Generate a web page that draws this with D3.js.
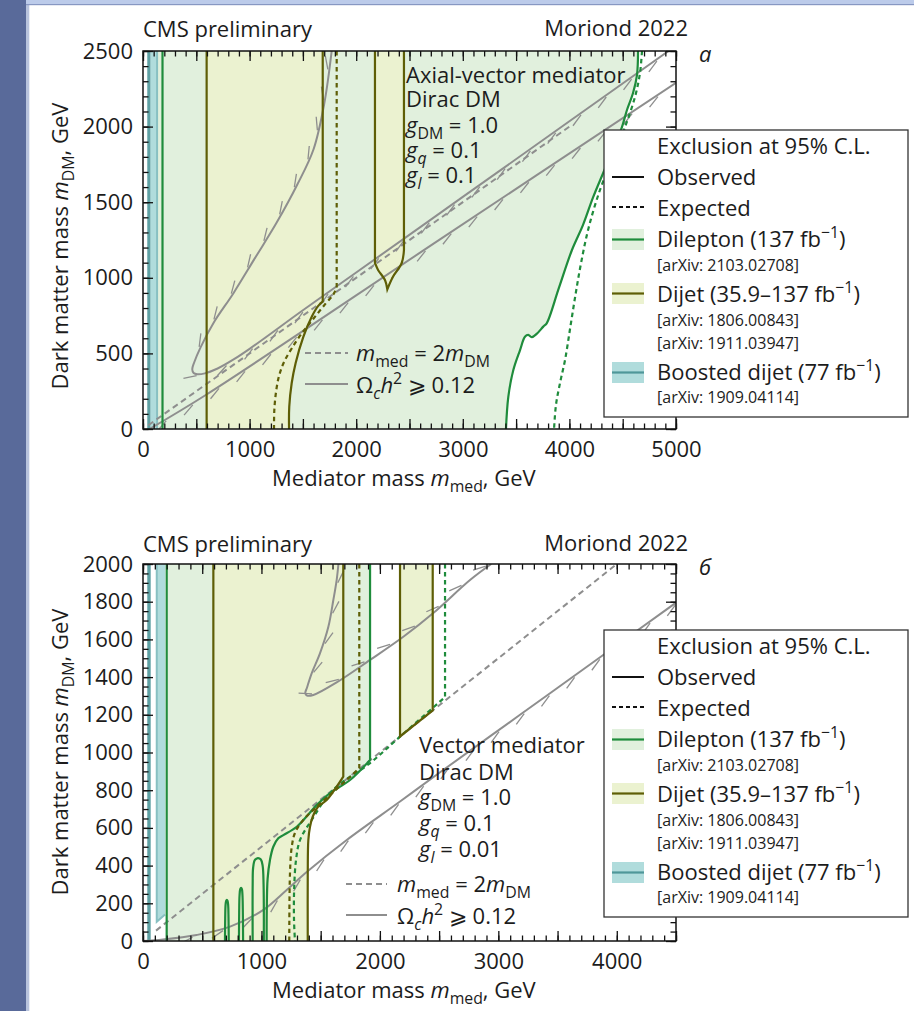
<!DOCTYPE html>
<html>
<head>
<meta charset="utf-8">
<script src="https://cdn.jsdelivr.net/npm/d3@7"></script>
<style>
  html, body { margin: 0; padding: 0; background: #fff; }
  svg { display: block; font-family: "Open Sans", "Noto Sans", sans-serif; }
</style>
</head>
<body>
<svg id="fig" width="914" height="1011"></svg>
<script>
// Contours are lists of [mediator mass, DM mass] in GeV.
// A point listed twice in a row marks a sharp corner of the contour.

// ---------------- Panel а: axial-vector mediator ----------------
const avXDomain = [0, 5000];
const avYDomain = [0, 2500];
const avXLabels = [0, 1000, 2000, 3000, 4000, 5000];
const avYLabels = [0, 500, 1000, 1500, 2000, 2500];
const avBoostedStrip = [40, 72];
const avBoostedFill = [72, 141];
const avBoostedEdge = 132;
const avDileptonLeft = 183;
const avDileptonObs = [[4644,2500],[4634,2341],[4597,2222],[4540,2110],[4493,1997],[4410,1850],[4315,1690],[4221,1530],[4128,1350],[4024,1184],[3900,930],[3787,699],[3755,677],[3693,629],[3646,607],[3614,622],[3583,610],[3537,522],[3474,390],[3427,213],[3405,0]];
const avDileptonExp = [[4681,2500],[4662,2354],[4615,2196],[4512,1978],[4400,1779],[4287,1581],[4180,1330],[4110,1100],[4060,900],[4010,680],[3960,460],[3912,304],[3874,159],[3856,0]];
const avDijetLeft = 597;
const avDijetObs = [[1686,2500],[1686,842],[1686,842],[1642,813],[1583,743],[1504,610],[1432,437],[1395,304],[1372,147],[1370,0]];
const avDijetExp = [[1817,2500],[1817,933],[1817,933],[1782,886],[1717,833],[1604,734],[1492,635],[1398,536],[1323,443],[1276,351],[1248,245],[1232,126],[1229,0]];
const avDijetIsland = [[2176,2500],[2176,1098],[2176,1098],[2205,1052],[2270,985],[2292,924],[2292,924],[2345,1007],[2427,1098],[2448,1184],[2448,1184],[2448,2500]];
const avRelicLoop = [[1770,2500],[1700,2150],[1600,1850],[1450,1620],[1250,1360],[1050,1130],[850,900],[660,700],[540,540],[480,440],[462,395],[475,370],[510,362],[580,368],[700,400],[850,460],[1000,530],[1500,785],[2000,1035],[3000,1535],[4000,2035],[4930,2500]];
const avRelicLine = [[60,0],[600,230],[2786,1254],[5000,2290]];
const avDiagonal = [[50,25],[4000,2000]];
const avModel = ["Axial-vector mediator", "Dirac DM"];
const avCouplings = [["DM", "1.0"], ["q", "0.1"], ["l", "0.1"]];

// ---------------- Panel б: vector mediator ----------------
const vcXDomain = [0, 4500];
const vcYDomain = [0, 2000];
const vcXLabels = [0, 1000, 2000, 3000, 4000];
const vcYLabels = [0, 200, 400, 600, 800, 1000, 1200, 1400, 1600, 1800, 2000];
const vcBoostedStrip = [36, 65];
const vcBoostedRegion = [[116,2000],[116,102],[186,140],[186,2000]];
const vcDileptonLeft = 200;
const vcDileptonObs = [[1917,2000],[1917,960],[1917,960],[1748,854],[1579,784],[1467,721],[1298,606],[1185,562],[1142,545],[1100,500],[1072,430],[1052,330],[1045,160],[1044,0]];
const vcDileptonArches = [
  [[692,0],[694,120],[697,190],[702,213],[708,218],[714,213],[719,190],[722,120],[724,0]],
  [[810,0],[812,150],[815,240],[821,275],[828,282],[835,275],[840,240],[843,150],[845,0]],
  [[926,0],[926,300],[930,390],[945,430],[970,440],[995,432],[1010,400],[1018,300],[1020,0]]
];
const vcDileptonExp = [[2550,2000],[2550,1294],[2550,1294],[2170,1084],[1917,944],[1604,801],[1424,642],[1326,536],[1292,430],[1276,271],[1275,111],[1283,0]];
const vcDijetLeft = 594;
const vcDijetObs = [[1691,2000],[1691,872],[1691,872],[1635,819],[1551,748],[1478,712],[1433,659],[1410,606],[1396,536],[1391,361],[1391,0]];
const vcDijetExp = [[1826,2000],[1826,916],[1826,916],[1691,838],[1579,775],[1467,712],[1353,642],[1283,573],[1256,500],[1241,361],[1235,0]];
const vcDijetIsland = [[2170,2000],[2170,1085],[2170,1085],[2446,1223],[2446,1223],[2446,2000]];
const vcRelicLoop = [[1650,2000],[1635,1915],[1607,1809],[1565,1667],[1494,1526],[1424,1420],[1385,1345],[1370,1315],[1385,1302],[1438,1305],[1635,1372],[1917,1491],[2198,1614],[2451,1740],[2761,1915],[2940,2000]];
const vcRelicCurve = [[0,0],[169,8],[453,32],[735,76],[1013,164],[1213,271],[1382,366],[1720,536],[2170,740],[2508,895],[3183,1200],[3859,1505],[4500,1795]];
const vcDiagonal = [[110,55],[4000,2000]];
const vcModel = ["Vector mediator", "Dirac DM"];
const vcCouplings = [["DM", "1.0"], ["q", "0.1"], ["l", "0.01"]];

// ---------------- Shared text ----------------
const experimentLabel = "CMS preliminary";
const conferenceLabel = "Moriond 2022";
const panelLetters = ["а", "б"];
const legendTitle = "Exclusion at 95% C.L.";
const legendStyles = ["Observed", "Expected"];
const legendAnalyses = [
  { name: "Dilepton (137 fb", refs: ["[arXiv: 2103.02708]"] },
  { name: "Dijet (35.9–137 fb", refs: ["[arXiv: 1806.00843]", "[arXiv: 1911.03947]"] },
  { name: "Boosted dijet (77 fb", refs: ["[arXiv: 1909.04114]"] }
];

// ---------------- Colours ----------------
const C = {
  lepFill: "#e1f0dd", lepLine: "#1f8c3c",
  jetFill: "#ebf2d0", jetLine: "#5e5e06",
  boostFill: "#b0dcdc", boostDark: "#5fa0a3", boostLine: "#88c0c2",
  relic: "#8e8e8e", text: "#1c1c1c"
};
const FONT = 22;

const svg = d3.select("#fig");

// page frame strips
svg.append("rect").attr("x", 0).attr("y", 0).attr("width", 26).attr("height", 1011).attr("fill", "#596a9a");
svg.append("rect").attr("x", 26).attr("y", 0).attr("width", 3.3).attr("height", 1011).attr("fill", "#b8c3dd");
svg.append("rect").attr("x", 26).attr("y", 0).attr("width", 888).attr("height", 4).attr("fill", "#bccbea");
svg.append("rect").attr("x", 26).attr("y", 4).attr("width", 888).attr("height", 1.2).attr("fill", "#8797c2");

// rich text: segments [text, flags]; flags: i = italic, b = subscript, p = superscript
function rich(parent, x, y, segs, size, anchor) {
  const t = parent.append("text").attr("x", x).attr("y", y)
    .attr("font-size", size).attr("fill", C.text)
    .attr("text-anchor", anchor || "start");
  let shift = 0;
  segs.forEach(([s, f = ""]) => {
    const sp = t.append("tspan").text(s);
    const target = f.includes("b") ? 0.26 * size : f.includes("p") ? -0.42 * size : 0;
    if (target !== shift) sp.attr("dy", target - shift);
    shift = target;
    if (f.includes("b") || f.includes("p")) sp.attr("font-size", size * 0.72);
    if (f.includes("i")) sp.attr("font-style", "italic");
  });
  return t;
}

const smooth = d3.line().curve(d3.curveCatmullRom.alpha(0.5));
const straight = d3.line();

// smooth path through pixel points, broken into separate smooth pieces at repeated points
function contourPath(pts) {
  const pieces = [[pts[0]]];
  for (let i = 1; i < pts.length; i++) {
    const p = pts[i], q = pts[i - 1];
    if (p[0] === q[0] && p[1] === q[1]) pieces.push([p]);
    else pieces[pieces.length - 1].push(p);
  }
  return pieces.filter(pc => pc.length > 1)
    .map((pc, i) => { const s = smooth(pc); return i ? s.replace(/^M/, "L") : s; }).join("");
}

// short slanted strokes marking one side of a relic-density contour
function hatch(layer, node, side) {
  const L = node.getTotalLength();
  const step = 31, len = 14, ang = 24 * Math.PI / 180;
  for (let s = step * 0.6; s < L; s += step) {
    const a = node.getPointAtLength(Math.max(0, s - 1.5));
    const b = node.getPointAtLength(Math.min(L, s + 1.5));
    let tx = b.x - a.x, ty = b.y - a.y;
    const n = Math.hypot(tx, ty) || 1; tx /= n; ty /= n;
    const nx = -ty * side, ny = tx * side;
    const p = node.getPointAtLength(s);
    layer.append("line")
      .attr("x1", p.x + 1.5 * nx).attr("y1", p.y + 1.5 * ny)
      .attr("x2", p.x + len * (-Math.cos(ang) * tx + Math.sin(ang) * nx))
      .attr("y2", p.y + len * (-Math.cos(ang) * ty + Math.sin(ang) * ny))
      .attr("stroke", C.relic).attr("stroke-width", 1.3);
  }
}

function drawPanel(cfg) {
  const x = d3.scaleLinear().domain(cfg.xDomain).range([cfg.left, cfg.right]);
  const y = d3.scaleLinear().domain(cfg.yDomain).range([cfg.bottom, cfg.top]);
  const P = d => [x(d[0]), y(d[1])];
  const xMax = cfg.xDomain[1], yMax = cfg.yDomain[1];
  const g = svg.append("g");

  svg.append("clipPath").attr("id", "clip" + cfg.id).append("rect")
    .attr("x", cfg.left).attr("y", cfg.top)
    .attr("width", cfg.right - cfg.left).attr("height", cfg.bottom - cfg.top);
  const plot = g.append("g").attr("clip-path", `url(#clip${cfg.id})`);

  const region = (head, boundary) =>
    straight(head.map(P)) + contourPath(boundary.map(P)).replace(/^M/, "L") + "Z";

  // dilepton exclusion
  plot.append("path").attr("fill", C.lepFill)
    .attr("d", region([[cfg.lepFillFrom, 0], [cfg.lepFillFrom, yMax]], cfg.lepObs));
  // boosted dijet exclusion
  plot.append("rect").attr("fill", C.boostDark)
    .attr("x", x(cfg.boostStrip[0])).attr("width", x(cfg.boostStrip[1]) - x(cfg.boostStrip[0]))
    .attr("y", cfg.top).attr("height", cfg.bottom - cfg.top);
  if (cfg.boostFill) {
    plot.append("rect").attr("fill", C.boostFill)
      .attr("x", x(cfg.boostFill[0])).attr("width", x(cfg.boostFill[1]) - x(cfg.boostFill[0]))
      .attr("y", cfg.top).attr("height", cfg.bottom - cfg.top);
    plot.append("path").attr("stroke", C.boostLine).attr("stroke-width", 2).attr("fill", "none")
      .attr("d", straight([[cfg.boostEdge, 0], [cfg.boostEdge, yMax]].map(P)));
  }
  if (cfg.boostRegion) {
    plot.append("path").attr("fill", C.boostFill).attr("d", straight(cfg.boostRegion.map(P)) + "Z");
    plot.append("path").attr("stroke", C.boostLine).attr("stroke-width", 2).attr("fill", "none")
      .attr("d", straight(cfg.boostRegion.slice(0, 3).map(P)));
  }
  // dijet exclusions
  plot.append("path").attr("fill", C.jetFill)
    .attr("d", region([[cfg.jetLeft, 0], [cfg.jetLeft, yMax]], cfg.jetObs));
  plot.append("path").attr("fill", C.jetFill)
    .attr("d", contourPath(cfg.jetIsland.map(P)) + "Z");

  // relic density contours and the kinematic diagonal
  plot.append("path").attr("fill", "none").attr("stroke", C.relic).attr("stroke-width", 2)
    .attr("stroke-dasharray", "6,4").attr("d", straight(cfg.diagonal.map(P)));
  cfg.relic.forEach(r => {
    const pth = plot.append("path").attr("fill", "none").attr("stroke", C.relic)
      .attr("stroke-width", 2).attr("d", smooth(r.pts.map(P)));
    hatch(plot, pth.node(), r.side);
  });

  // exclusion contours
  const stroke = (pts, col, dashed) => plot.append("path").attr("fill", "none")
    .attr("stroke", col).attr("stroke-width", 2.2)
    .attr("stroke-dasharray", dashed ? "4.5,3.5" : null)
    .attr("d", contourPath(pts.map(P)));
  stroke([[cfg.lepLeft, 0], [cfg.lepLeft, yMax]], C.lepLine, false);
  stroke(cfg.lepObs, C.lepLine, false);
  (cfg.lepArches || []).forEach(a => stroke(a, C.lepLine, false));
  stroke(cfg.lepExp, C.lepLine, true);
  stroke([[cfg.jetLeft, 0], [cfg.jetLeft, yMax]], C.jetLine, false);
  stroke(cfg.jetObs, C.jetLine, false);
  stroke(cfg.jetExp, C.jetLine, true);
  stroke(cfg.jetIsland, C.jetLine, false);

  // axes: ticks point inward on all four sides
  const minorX = d3.range(0, xMax + 1, 100), majorX = d3.range(0, xMax + 1, 500);
  const minorY = d3.range(0, yMax + 1, cfg.yMinor), majorY = d3.range(0, yMax + 1, cfg.yMajor);
  const styleAxis = sel => {
    sel.select(".domain").remove();
    sel.selectAll(".tick line").attr("stroke", "#111").attr("stroke-width", 1.3);
    sel.selectAll("text").attr("font-size", FONT).attr("fill", C.text)
      .attr("font-family", '"Open Sans", "Noto Sans", sans-serif');
    sel.attr("font-size", null).attr("font-family", null);
  };
  const put = (axis, tx, ty) => g.append("g").attr("transform", `translate(${tx},${ty})`).call(axis).call(styleAxis);
  put(d3.axisBottom(x).tickValues(minorX).tickSize(-5.5).tickFormat(""), 0, cfg.bottom);
  put(d3.axisBottom(x).tickValues(majorX).tickSize(-10).tickPadding(12)
      .tickFormat(d => cfg.xLabels.includes(d) ? d : ""), 0, cfg.bottom);
  put(d3.axisTop(x).tickValues(minorX).tickSize(-5.5).tickFormat(""), 0, cfg.top);
  put(d3.axisTop(x).tickValues(majorX).tickSize(-10).tickFormat(""), 0, cfg.top);
  put(d3.axisLeft(y).tickValues(minorY).tickSize(-5.5).tickFormat(""), cfg.left, 0);
  put(d3.axisLeft(y).tickValues(majorY).tickSize(-10).tickPadding(10)
      .tickFormat(d => cfg.yLabels.includes(d) ? d : ""), cfg.left, 0);
  put(d3.axisRight(y).tickValues(minorY).tickSize(-5.5).tickFormat(""), cfg.right, 0);
  put(d3.axisRight(y).tickValues(majorY).tickSize(-10).tickFormat(""), cfg.right, 0);

  g.append("rect").attr("x", cfg.left).attr("y", cfg.top)
    .attr("width", cfg.right - cfg.left).attr("height", cfg.bottom - cfg.top)
    .attr("fill", "none").attr("stroke", "#111").attr("stroke-width", 1.5);

  // header
  g.append("text").attr("x", cfg.left).attr("y", cfg.headY).attr("font-size", FONT)
    .attr("fill", C.text).text(experimentLabel);
  g.append("text").attr("x", 688).attr("y", cfg.headY - 1).attr("font-size", FONT)
    .attr("text-anchor", "end").attr("fill", C.text).text(conferenceLabel);
  g.append("text").attr("x", 699).attr("y", cfg.top + 11).attr("font-size", FONT)
    .attr("font-style", "italic").attr("fill", C.text).text(cfg.letter);

  // axis titles
  rich(g, 272, cfg.bottom + 57, [["Mediator mass "], ["m", "i"], ["med", "b"], [", GeV"]], FONT);
  rich(g, 0, 0, [["Dark matter mass "], ["m", "i"], ["DM", "b"], [", GeV"]], FONT, "middle")
    .attr("transform", `translate(68,${cfg.yTitleY}) rotate(-90)`);

  // model description
  cfg.model.forEach((m, i) => rich(g, cfg.noteX, cfg.noteY[i], [[m]], FONT));
  cfg.couplings.forEach(([sub, val], i) =>
    rich(g, cfg.noteX, cfg.noteY[i + 2], [["g", "i"], [sub, sub === "DM" ? "b" : "bi"], [" = " + val]], FONT));

  // inline key for the reference curves
  const k = cfg.key;
  g.append("line").attr("x1", k.x0).attr("x2", k.x1).attr("y1", k.y0).attr("y2", k.y0)
    .attr("stroke", C.relic).attr("stroke-width", 2).attr("stroke-dasharray", "6,4");
  rich(g, k.tx, k.y0 + 8, [["m", "i"], ["med", "b"], [" = 2"], ["m", "i"], ["DM", "b"]], FONT);
  g.append("line").attr("x1", k.x0).attr("x2", k.x1).attr("y1", k.y1).attr("y2", k.y1)
    .attr("stroke", C.relic).attr("stroke-width", 2);
  rich(g, k.tx, k.y1 + 9, [["Ω"], ["c", "bi"], ["h", "i"], ["2", "p"], [" \u2A7E 0.12"]], FONT);

  drawLegend(cfg.legendTop);
}

function drawLegend(top) {
  const lg = svg.append("g").attr("transform", `translate(604,${top})`);
  lg.append("rect").attr("width", 304).attr("height", 287).attr("fill", "#fff")
    .attr("stroke", "#333").attr("stroke-width", 1.3);
  const tx = 53;
  lg.append("text").attr("x", tx).attr("y", 24).attr("font-size", FONT).attr("fill", C.text).text(legendTitle);
  [[legendStyles[0], 55, 47, null], [legendStyles[1], 86, 77, "4,3"]].forEach(([t, by, ly, dash]) => {
    lg.append("line").attr("x1", 8).attr("x2", 40).attr("y1", ly).attr("y2", ly)
      .attr("stroke", "#111").attr("stroke-width", 2).attr("stroke-dasharray", dash);
    lg.append("text").attr("x", tx).attr("y", by).attr("font-size", FONT).attr("fill", C.text).text(t);
  });
  const rows = [
    { by: 117, py: 99, fill: C.lepFill, line: C.lepLine, refY: [141] },
    { by: 172, py: 153, fill: C.jetFill, line: C.jetLine, refY: [196, 219] },
    { by: 250, py: 232, fill: C.boostFill, line: "#4f9799", refY: [273] }
  ];
  rows.forEach((r, i) => {
    lg.append("rect").attr("x", 8).attr("y", r.py).attr("width", 32).attr("height", 21).attr("fill", r.fill);
    lg.append("line").attr("x1", 8).attr("x2", 40).attr("y1", r.py + 10.5).attr("y2", r.py + 10.5)
      .attr("stroke", r.line).attr("stroke-width", 2.2);
    rich(lg, tx, r.by, [[legendAnalyses[i].name], ["−1", "p"], [")"]], FONT);
    legendAnalyses[i].refs.forEach((ref, j) =>
      lg.append("text").attr("x", tx).attr("y", r.refY[j]).attr("font-size", 16).attr("fill", C.text).text(ref));
  });
}

drawPanel({
  id: "A", left: 143, right: 676, top: 51, bottom: 429,
  xDomain: avXDomain, yDomain: avYDomain, xLabels: avXLabels, yLabels: avYLabels,
  yMinor: 100, yMajor: 500,
  boostStrip: avBoostedStrip, boostFill: avBoostedFill, boostEdge: avBoostedEdge,
  lepLeft: avDileptonLeft, lepFillFrom: avBoostedFill[1], lepObs: avDileptonObs, lepExp: avDileptonExp,
  jetLeft: avDijetLeft, jetObs: avDijetObs, jetExp: avDijetExp, jetIsland: avDijetIsland,
  relic: [{ pts: avRelicLoop, side: 1 }, { pts: avRelicLine, side: 1 }],
  diagonal: avDiagonal,
  headY: 37, letter: panelLetters[0], yTitleY: 246,
  model: avModel, couplings: avCouplings, noteX: 406, noteY: [83, 107, 133, 158, 183],
  key: { x0: 305, x1: 348, y0: 353, y1: 384, tx: 356 },
  legendTop: 130
});

drawPanel({
  id: "B", left: 143, right: 676, top: 564, bottom: 941,
  xDomain: vcXDomain, yDomain: vcYDomain, xLabels: vcXLabels, yLabels: vcYLabels,
  yMinor: 50, yMajor: 200,
  boostStrip: vcBoostedStrip, boostRegion: vcBoostedRegion,
  lepLeft: vcDileptonLeft, lepFillFrom: vcDileptonLeft, lepObs: vcDileptonObs, lepArches: vcDileptonArches, lepExp: vcDileptonExp,
  jetLeft: vcDijetLeft, jetObs: vcDijetObs, jetExp: vcDijetExp, jetIsland: vcDijetIsland,
  relic: [{ pts: vcRelicLoop, side: -1 }, { pts: vcRelicCurve, side: 1 }],
  diagonal: vcDiagonal,
  headY: 552, letter: panelLetters[1], yTitleY: 752,
  model: vcModel, couplings: vcCouplings, noteX: 419, noteY: [753, 780, 805, 831, 857],
  key: { x0: 346, x1: 387, y0: 884, y1: 915, tx: 397 },
  legendTop: 630
});
</script>
</body>
</html>
